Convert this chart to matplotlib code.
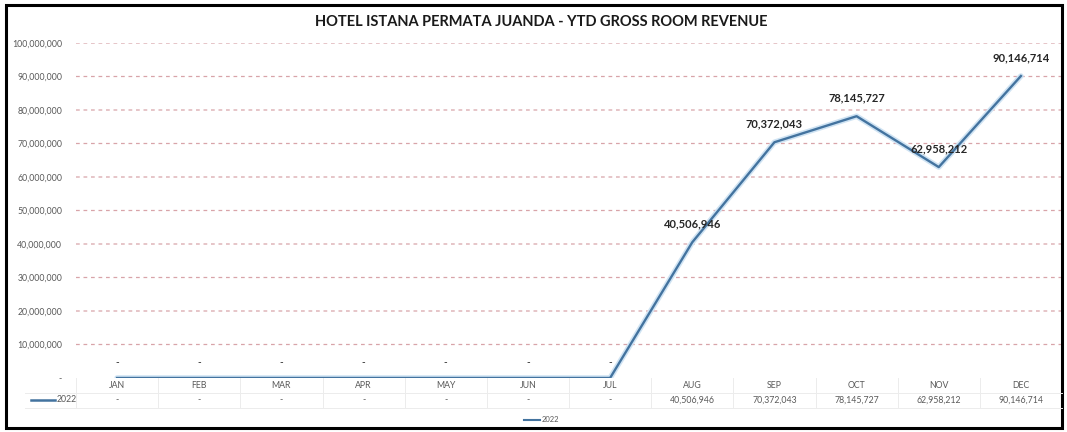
import matplotlib.pyplot as plt
from matplotlib.patches import Rectangle
from matplotlib.lines import Line2D

months = ["JAN", "FEB", "MAR", "APR", "MAY", "JUN", "JUL", "AUG", "SEP", "OCT", "NOV", "DEC"]
revenue_2022 = [0, 0, 0, 0, 0, 0, 0, 40506946, 70372043, 78145727, 62958212, 90146714]
y_ticks = [0, 10000000, 20000000, 30000000, 40000000, 50000000,
           60000000, 70000000, 80000000, 90000000, 100000000]
series_name = "2022"
title = "HOTEL ISTANA PERMATA JUANDA - YTD GROSS ROOM REVENUE"

W, H = 1067, 432
plt.rcParams['font.family'] = ['Lato', 'DejaVu Sans']


def fx(px):
    return px / W


def fy(py):
    return 1 - py / H


def fmt(v):
    return f"{v:,}" if v else "-"


fig = plt.figure(figsize=(W / 100, H / 100), dpi=100)
ax = fig.add_axes([fx(76), fy(378), fx(1062) - fx(76), fy(43) - fy(378)])

line_color = "#43739f"
x = list(range(len(months)))
ax.plot(x, revenue_2022, color="#cfe3f3", lw=4.0, solid_capstyle="round", zorder=2)
ax.plot(x, revenue_2022, color=line_color, lw=1.7, zorder=3)

ax.set_xlim(-0.5, len(months) - 0.5)
ax.set_ylim(0, 100000000)
ax.set_yticks(y_ticks)
ax.set_yticklabels([fmt(v) for v in y_ticks], fontsize=6.3, color="#595959")
ax.set_xticks([])
ax.tick_params(axis="y", length=0, pad=10)
for s in ax.spines.values():
    s.set_visible(False)
for v in y_ticks[1:]:
    ax.axhline(v, color="#d8a4a9", lw=0.9, ls=(0, (3, 3)), zorder=1, snap=False)

# etykiety danych
for i, v in enumerate(revenue_2022):
    if v:
        ax.annotate(fmt(v), (i, v), xytext=(0, 9), textcoords="offset points",
                    ha="center", va="bottom", fontsize=8, fontweight="bold", color="#262626")
    else:
        ax.annotate("-", (i, v), xytext=(0, 8), textcoords="offset points",
                    ha="center", va="bottom", fontsize=7, fontweight="bold", color="#404040")

# tabela danych pod wykresem
grid_c = "#ececec"
tr = ax.get_xaxis_transform()
for i, (m, v) in enumerate(zip(months, revenue_2022)):
    ax.text(i, -0.021, m, transform=tr, ha="center", va="center", fontsize=6.3, color="#595959", clip_on=False)
    ax.text(i, -0.066, fmt(v), transform=tr, ha="center", va="center", fontsize=6.3, color="#595959", clip_on=False)
for i in range(len(months) + 1):
    ax.plot([i - 0.5, i - 0.5], [0, -0.09], transform=tr, color=grid_c, lw=0.7, clip_on=False)
for yy in (393, 408):
    fig.add_artist(Line2D([fx(25), fx(1062)], [fy(yy), fy(yy)], color=grid_c, lw=0.7))
fig.add_artist(Line2D([fx(31), fx(55)], [fy(400), fy(400)], color=line_color, lw=1.8))
fig.text(fx(57), fy(400), series_name, ha="left", va="center", fontsize=6.3, color="#595959")

# legenda
fig.add_artist(Line2D([fx(524), fx(540)], [fy(420), fy(420)], color=line_color, lw=1.5))
fig.text(fx(542), fy(420), series_name, ha="left", va="center", fontsize=5.5, color="#595959")

fig.text(fx(541), fy(22), title, ha="center", va="center", fontsize=10.5, fontweight="bold", color="#1a1a1a")

fig.add_artist(Rectangle((fx(6), fy(428)), fx(1062) - fx(6), fy(5) - fy(428),
                         fill=False, edgecolor="black", lw=2.2))

fig.savefig("out.png", dpi=100)
